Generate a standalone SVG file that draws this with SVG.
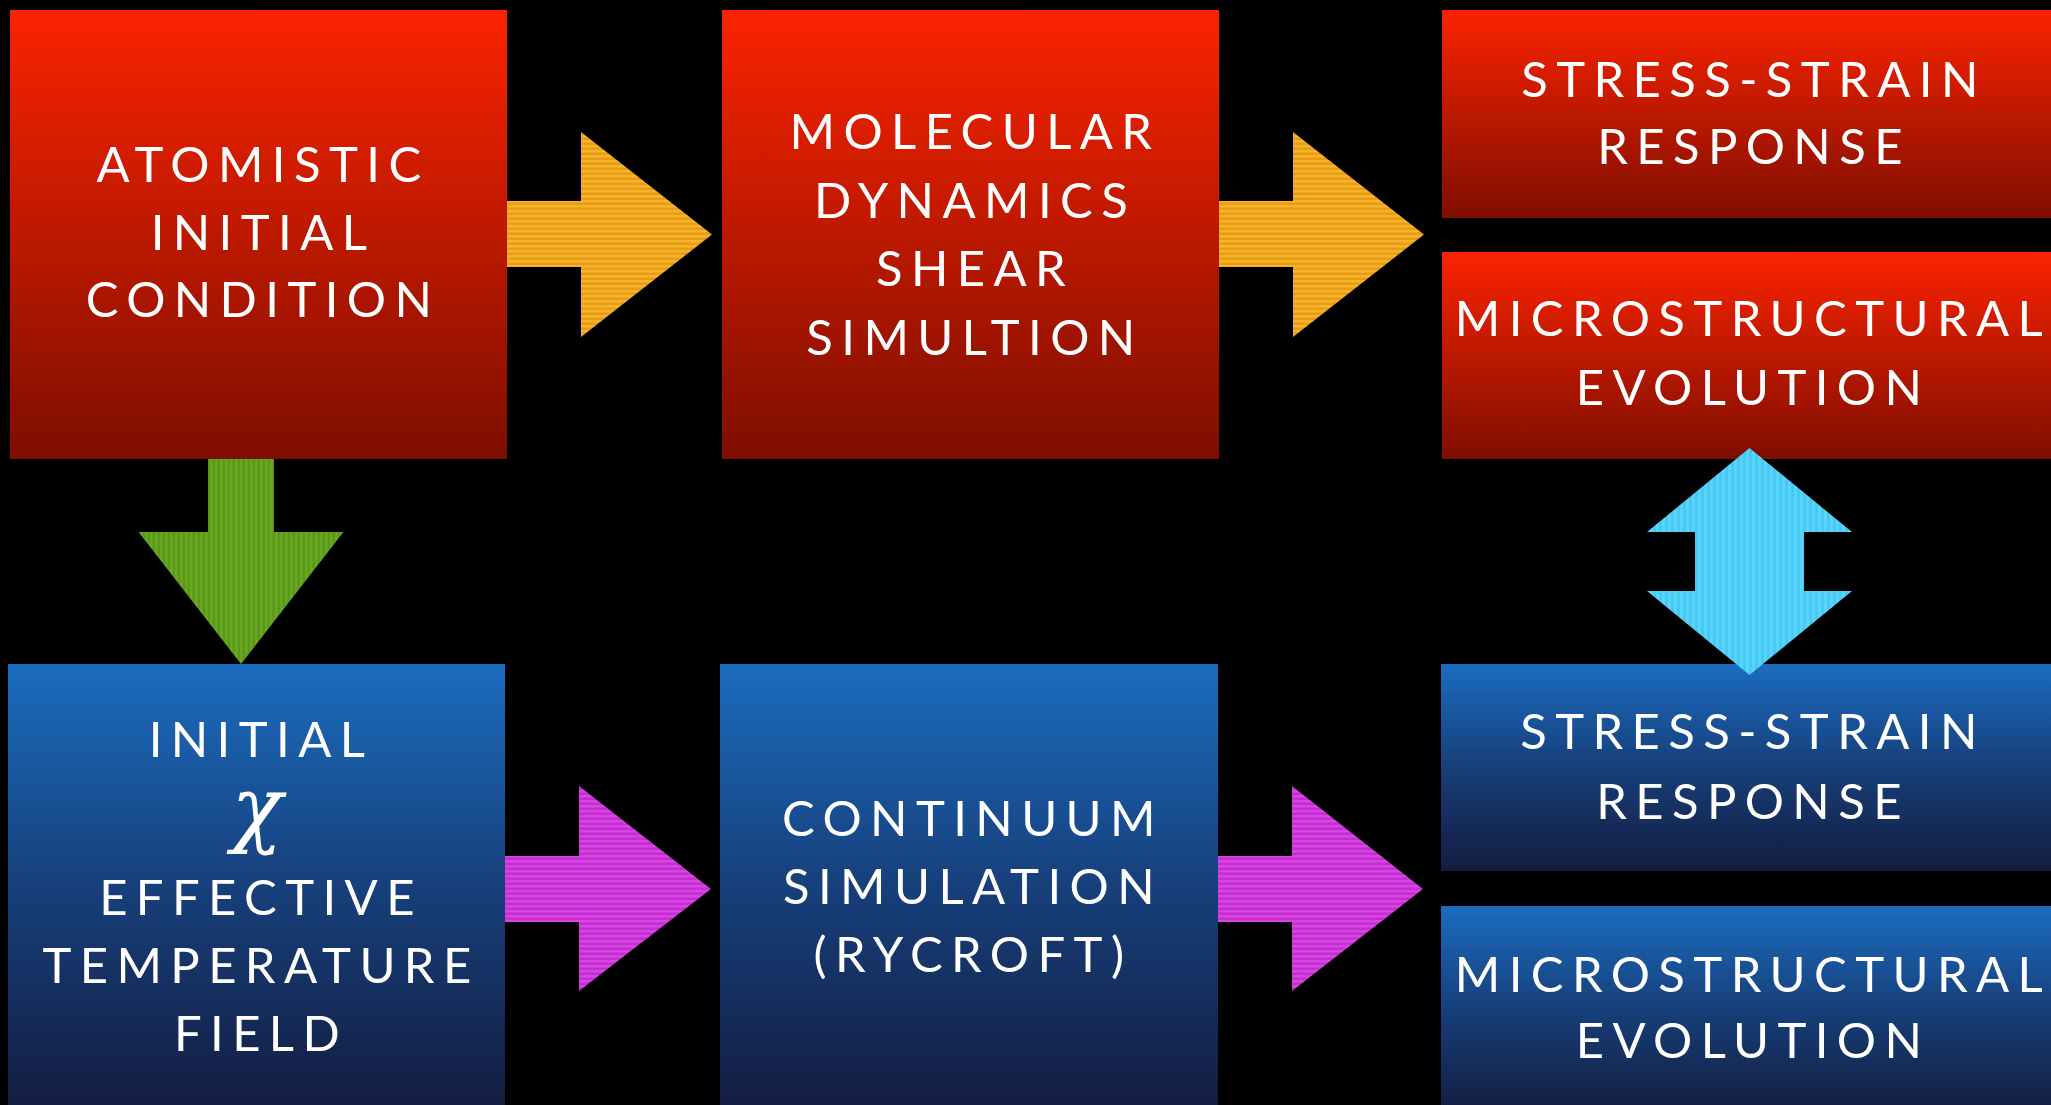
<svg xmlns="http://www.w3.org/2000/svg" width="2051" height="1105" viewBox="0 0 2051 1105">
<defs>
  <linearGradient id="gRed" x1="0" y1="0" x2="0" y2="1">
    <stop offset="0" stop-color="#fb2300"/>
    <stop offset="1" stop-color="#7e0e00"/>
  </linearGradient>
  <linearGradient id="gBlue" x1="0" y1="0" x2="0" y2="1">
    <stop offset="0" stop-color="#1b6cbf"/>
    <stop offset="0.5" stop-color="#173f7a"/>
    <stop offset="1" stop-color="#131c3f"/>
  </linearGradient>
  <pattern id="pOrange" patternUnits="userSpaceOnUse" width="10" height="5">
    <rect width="10" height="5" fill="#f8b22b"/>
    <rect y="2.5" width="10" height="2.5" fill="#e69f14"/>
  </pattern>
  <pattern id="pMagenta" patternUnits="userSpaceOnUse" width="10" height="5">
    <rect width="10" height="5" fill="#d845e4"/>
    <rect y="2.5" width="10" height="2.5" fill="#c42fd1"/>
  </pattern>
  <pattern id="pGreen" patternUnits="userSpaceOnUse" width="5" height="10">
    <rect width="5" height="10" fill="#6aa822"/>
    <rect x="2.5" width="2.5" height="10" fill="#5a981a"/>
  </pattern>
  <pattern id="pCyan" patternUnits="userSpaceOnUse" width="6" height="10">
    <rect width="6" height="10" fill="#56d6fc"/>
    <rect x="3" width="3" height="10" fill="#4ac8f2"/>
  </pattern>
</defs>
<style>
  .red { fill: url(#gRed); }
  .blue { fill: url(#gBlue); }
  .lbl { font-family: Lato, "Open Sans", "Liberation Sans", sans-serif; font-size: 49px; fill: #ffffff; text-anchor: middle; letter-spacing: 8.4px; }
  .chi { font-family: "DejaVu Serif", "Liberation Serif", serif; font-style: italic; font-size: 84px; fill: #ffffff; text-anchor: middle; }
</style>
<rect width="2051" height="1105" fill="#000000"/>

<g id="atomistic">
  <rect class="red" x="10" y="10" width="497" height="449"/>
  <text class="lbl" x="263" y="182">ATOMISTIC</text>
  <text class="lbl" x="263" y="250">INITIAL</text>
  <text class="lbl" x="263" y="317">CONDITION</text>
</g>
<g id="md">
  <rect class="red" x="722" y="10" width="497" height="449"/>
  <text class="lbl" x="975" y="149">MOLECULAR</text>
  <text class="lbl" x="975" y="218">DYNAMICS</text>
  <text class="lbl" x="975" y="286">SHEAR</text>
  <text class="lbl" x="975" y="355">SIMULTION</text>
</g>
<g id="md-stress">
  <rect class="red" x="1442" y="10" width="620" height="208"/>
  <text class="lbl" x="1754" y="97">STRESS-STRAIN</text>
  <text class="lbl" x="1754" y="164">RESPONSE</text>
</g>
<g id="md-micro">
  <rect class="red" x="1442" y="252" width="620" height="207"/>
  <text class="lbl" x="1753" y="336">MICROSTRUCTURAL</text>
  <text class="lbl" x="1753" y="405">EVOLUTION</text>
</g>
<g id="initial-chi">
  <rect class="blue" x="8" y="664" width="497" height="449"/>
  <text class="lbl" x="261" y="757">INITIAL</text>
  <text class="chi" x="257" y="836">χ</text>
  <text class="lbl" x="261" y="915">EFFECTIVE</text>
  <text class="lbl" x="261" y="983">TEMPERATURE</text>
  <text class="lbl" x="261" y="1051">FIELD</text>
</g>
<g id="continuum">
  <rect class="blue" x="720" y="664" width="498" height="449"/>
  <text class="lbl" x="973" y="836">CONTINUUM</text>
  <text class="lbl" x="973" y="904">SIMULATION</text>
  <text class="lbl" x="973" y="972">(RYCROFT)</text>
</g>
<g id="cont-stress">
  <rect class="blue" x="1441" y="664" width="621" height="207"/>
  <text class="lbl" x="1753" y="749">STRESS-STRAIN</text>
  <text class="lbl" x="1753" y="819">RESPONSE</text>
</g>
<g id="cont-micro">
  <rect class="blue" x="1441" y="906" width="621" height="207"/>
  <text class="lbl" x="1753" y="992">MICROSTRUCTURAL</text>
  <text class="lbl" x="1753" y="1058">EVOLUTION</text>
</g>

<g id="connectors">
  <polygon fill="url(#pOrange)" points="507,201 581,201 581,132 712,234.5 581,337 581,267 507,267"/>
  <polygon fill="url(#pOrange)" points="1219,201 1293,201 1293,132 1424,234.5 1293,337 1293,267 1219,267"/>
  <polygon fill="url(#pGreen)" points="208,459 274,459 274,532 343.5,532 241,664 138.5,532 208,532"/>
  <polygon fill="url(#pMagenta)" points="505,856 579,856 579,786 711,889 579,991 579,922 505,922"/>
  <polygon fill="url(#pMagenta)" points="1218,856 1292,856 1292,786 1423,889 1292,991 1292,922 1218,922"/>
  <polygon fill="url(#pCyan)" points="1749.5,448 1852,532 1804,532 1804,591 1852,591 1749.5,675 1647,591 1695,591 1695,532 1647,532"/>
</g>
</svg>
